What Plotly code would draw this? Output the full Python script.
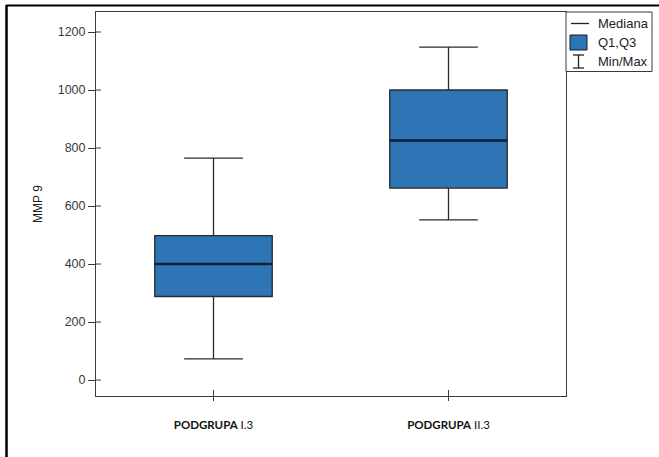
import plotly.graph_objects as go

# Group labels and five-number summaries of MMP 9
groups = ["<b>PODGRUPA</b> I.3", "<b>PODGRUPA</b> II.3"]
positions = [0, 1]
minimum = [73, 552]
q1 = [288, 662]
median = [400, 826]
q3 = [498, 1000]
maximum = [765, 1148]
y_ticks = [0, 200, 400, 600, 800, 1000, 1200]

BOX_W = 0.5
W, H = 659, 457
L, R, T, B = 96, 93, 12, 61
PW, PH = W - L - R, H - T - B


def px(x):
    return (x - L) / PW


def py(y):
    return (H - B - y) / PH


fig = go.Figure()

fig.add_trace(go.Box(
    x=positions, q1=q1, median=median, q3=q3,
    lowerfence=minimum, upperfence=maximum,
    width=BOX_W, whiskerwidth=0.5,
    fillcolor="#2E75B6",
    line=dict(color="#2b2b2b", width=1.3),
    boxpoints=False, showlegend=False, hoverinfo="skip",
))

# heavier median bars on top of the boxes
for xpos, m in zip(positions, median):
    fig.add_trace(go.Scatter(
        x=[xpos - BOX_W / 2, xpos + BOX_W / 2], y=[m, m], mode="lines",
        line=dict(color="#0B2238", width=2.6), showlegend=False, hoverinfo="skip",
    ))

xr = [-0.5, 1.5]
yr = [-55, 1269]
axis_line = "#3a3a3a"

fig.update_layout(
    width=W, height=H,
    margin=dict(l=L, r=R, t=T, b=B),
    paper_bgcolor="white", plot_bgcolor="white",
    xaxis=dict(
        range=xr, tickvals=positions, ticktext=groups,
        showgrid=False, zeroline=False,
        showline=True, linecolor=axis_line, linewidth=1, mirror=True,
        ticks="outside", ticklen=4, tickcolor=axis_line,
        ticklabelstandoff=14,
        tickfont=dict(family="Lato", size=11.5, color="#111111"),
    ),
    yaxis=dict(
        range=yr, tickvals=y_ticks,
        showgrid=False, zeroline=False,
        showline=True, linecolor=axis_line, linewidth=1, mirror=True,
        ticks="outside", ticklen=7, tickcolor=axis_line,
        tickfont=dict(family="Liberation Sans", size=12.5, color="#3a3a3a"),
        title=dict(text="MMP 9", standoff=12,
                   font=dict(family="Liberation Sans", size=12, color="#222222")),
    ),
)

shapes = []
# inner halves of the tick marks, so each tick crosses its axis line
for v in y_ticks:
    shapes.append(dict(type="line", xref="paper", yref="y",
                       x0=0, x1=5 / PW, y0=v, y1=v,
                       line=dict(color=axis_line, width=1)))
for xpos in positions:
    shapes.append(dict(type="line", xref="x", yref="paper",
                       x0=xpos, x1=xpos, y0=0, y1=6 / PH,
                       line=dict(color=axis_line, width=1)))

shapes += [
    # page frame: top and left rules
    dict(type="line", xref="paper", yref="paper",
         x0=px(6), x1=px(W), y0=py(5.5), y1=py(5.5),
         line=dict(color="black", width=2)),
    dict(type="line", xref="paper", yref="paper",
         x0=px(6.5), x1=px(6.5), y0=py(5), y1=py(H),
         line=dict(color="black", width=2.5)),
    # legend box
    dict(type="rect", xref="paper", yref="paper",
         x0=px(566), x1=px(652), y0=py(12), y1=py(71.5),
         line=dict(color=axis_line, width=1), fillcolor="white"),
    # legend symbols
    dict(type="line", xref="paper", yref="paper",
         x0=px(571), x1=px(589), y0=py(23.5), y1=py(23.5),
         line=dict(color="#222222", width=1.3)),
    dict(type="rect", xref="paper", yref="paper",
         x0=px(570), x1=px(587), y0=py(35), y1=py(50),
         line=dict(color="#1a1a1a", width=1), fillcolor="#2E75B6"),
    dict(type="line", xref="paper", yref="paper",
         x0=px(578.5), x1=px(578.5), y0=py(55), y1=py(68),
         line=dict(color="#222222", width=1.3)),
    dict(type="line", xref="paper", yref="paper",
         x0=px(573), x1=px(584), y0=py(55), y1=py(55),
         line=dict(color="#222222", width=1.3)),
    dict(type="line", xref="paper", yref="paper",
         x0=px(573), x1=px(584), y0=py(68), y1=py(68),
         line=dict(color="#222222", width=1.3)),
]
fig.update_layout(shapes=shapes)

legend_labels = ["Mediana", "Q1,Q3", "Min/Max"]
legend_rows = [23.5, 42.5, 61.5]
for label, row in zip(legend_labels, legend_rows):
    fig.add_annotation(
        xref="paper", yref="paper", x=px(596), y=py(row),
        xanchor="left", yanchor="middle", showarrow=False,
        text=label, font=dict(family="Liberation Sans", size=13, color="#222222"),
    )

fig.write_html("out.html")
